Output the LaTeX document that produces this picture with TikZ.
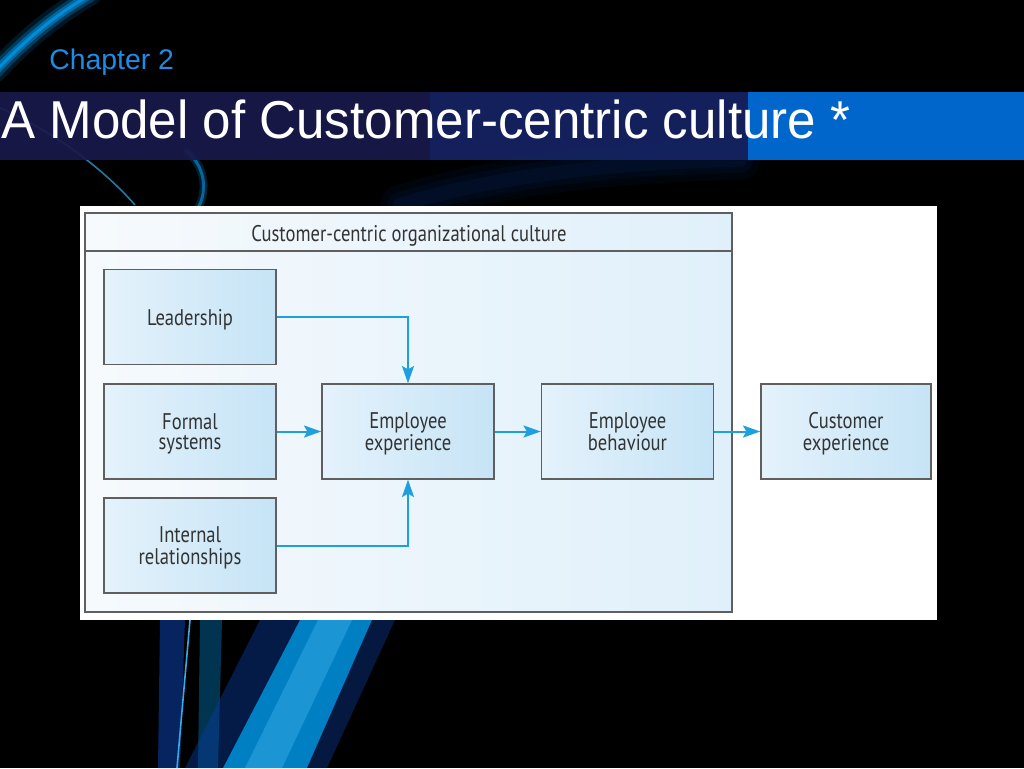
\documentclass[tikz,border=0pt]{standalone}
\usepackage{fontspec}
\setmainfont{Liberation Sans}
\newfontfamily\diagfont{PT Sans}
\usetikzlibrary{arrows.meta,shadings}
\definecolor{chapblue}{RGB}{30,140,230}
\definecolor{bandnavy}{RGB}{26,26,76}
\definecolor{bandblue}{RGB}{0,102,204}
\definecolor{arrowblue}{RGB}{30,160,220}
\definecolor{boxlight}{RGB}{228,242,251}
\definecolor{boxdark}{RGB}{198,228,246}
\definecolor{framelight}{RGB}{246,250,253}
\definecolor{framedark}{RGB}{224,240,250}
\definecolor{edgegray}{RGB}{95,95,95}
\definecolor{beam}{RGB}{0,150,230}
\definecolor{deepbeam}{RGB}{10,60,160}
\newcommand{\dtext}[1]{\raisebox{-2.25pt}[\height][\depth]{\scalebox{0.82}[1]{\begin{tabular}{@{}c@{}}#1\end{tabular}}}}
\tikzset{
  stepbox/.style={draw=edgegray, line width=1pt, left color=boxlight, right color=boxdark,
    minimum width=172*0.75pt, minimum height=95*0.75pt, inner sep=0pt,
    font=\diagfont\fontsize{17}{14}\selectfont, text=black!80, align=center},
  flow/.style={draw=arrowblue, line width=1.5pt, -{Stealth[length=13pt,width=9pt,inset=2.5pt]}},
}
\begin{document}
\begin{tikzpicture}[x=0.75pt,y=-0.75pt]
\useasboundingbox (0,0) rectangle (1024,768);
\fill[black] (0,0) rectangle (1024,768);
% decorative swooshes, top left
\foreach \w/\o in {22/0.15,14/0.3,8/0.5,3/0.8}{
  \draw[beam, line width=\w*0.75pt, opacity=\o, line cap=round] (-5,72) .. controls (25,40) and (55,15) .. (90,-5);
}
\draw[beam!80!white, line width=1.2pt, opacity=0.7] (0,108) .. controls (50,130) and (100,165) .. (135,205);
\foreach \w/\o in {8/0.2,3/0.6}{
  \draw[beam, line width=\w*0.75pt, opacity=\o] (185,150) .. controls (205,165) and (208,190) .. (198,208);
}
\foreach \w/\o in {40/0.07,26/0.09,14/0.11}{
  \draw[deepbeam, line width=\w*0.75pt, opacity=\o, line cap=round] (400,205) .. controls (480,180) and (600,162) .. (740,160);
}
% lower beams
\fill[deepbeam, opacity=0.6] (160,620) -- (185,620) -- (180,768) -- (158,768) -- cycle;
\draw[beam!80!white, line width=1.2pt] (190,620) -- (177,768);
\fill[beam, opacity=0.35] (200,620) -- (222,620) -- (218,768) -- (198,768) -- cycle;
\fill[deepbeam, opacity=0.45] (260,620) -- (300,620) -- (223,768) -- (185,768) -- cycle;
\fill[beam, opacity=0.85] (300,620) -- (372,620) -- (307,768) -- (223,768) -- cycle;
\fill[beam!75!white, opacity=0.45] (318,620) -- (352,620) -- (282,768) -- (245,768) -- cycle;
\fill[deepbeam, opacity=0.4] (372,620) -- (395,620) -- (327,768) -- (307,768) -- cycle;
% chapter label
\node[anchor=base west, text=chapblue, font=\fontsize{21.3}{22}\selectfont, inner sep=0pt] (chap) at (49,69) {Chapter 2};
% title band
\fill[bandnavy, opacity=0.92] (0,92) rectangle (748,160);
\fill[deepbeam, opacity=0.25] (430,92) rectangle (748,160);
\fill[bandblue] (748,92) rectangle (1024,160);
\node[anchor=base west, text=white, font=\fontsize{40}{40}\selectfont, inner sep=0pt] (title) at (1,138) {\scalebox{0.958}[1]{A Model of Customer-centric culture *}};
% diagram white panel
\fill[white] (80,206) rectangle (937,620);
\draw[edgegray, line width=1pt, left color=framelight, right color=framedark] (85,213) rectangle (732,612);
\draw[edgegray, line width=1pt] (85,251) -- (732,251);
\node[font=\diagfont\fontsize{17}{14}\selectfont, text=black!80] (hdr) at (409,233) {\dtext{Customer-centric organizational culture}};
% boxes
\node[stepbox] (lead) at (190,317) {\dtext{Leadership}};
\node[stepbox] (formal) at (190,431.5) {\dtext{Formal\\systems}};
\node[stepbox] (internal) at (190,545.5) {\dtext{Internal\\relationships}};
\node[stepbox] (empexp) at (408,431.5) {\dtext{Employee\\experience}};
\node[stepbox] (empbeh) at (627.5,431.5) {\dtext{Employee\\behaviour}};
\node[stepbox, minimum width=170*0.75pt] (custexp) at (846,431.5) {\dtext{Customer\\experience}};
% connectors
\draw[flow] (lead.east) -| (empexp.north);
\draw[flow] (internal.east) -| (empexp.south);
\draw[flow] (formal.east) -- (empexp.west);
\draw[flow] (empexp.east) -- (empbeh.west);
\draw[flow] (empbeh.east) -- (custexp.west);
\end{tikzpicture}
\end{document}
